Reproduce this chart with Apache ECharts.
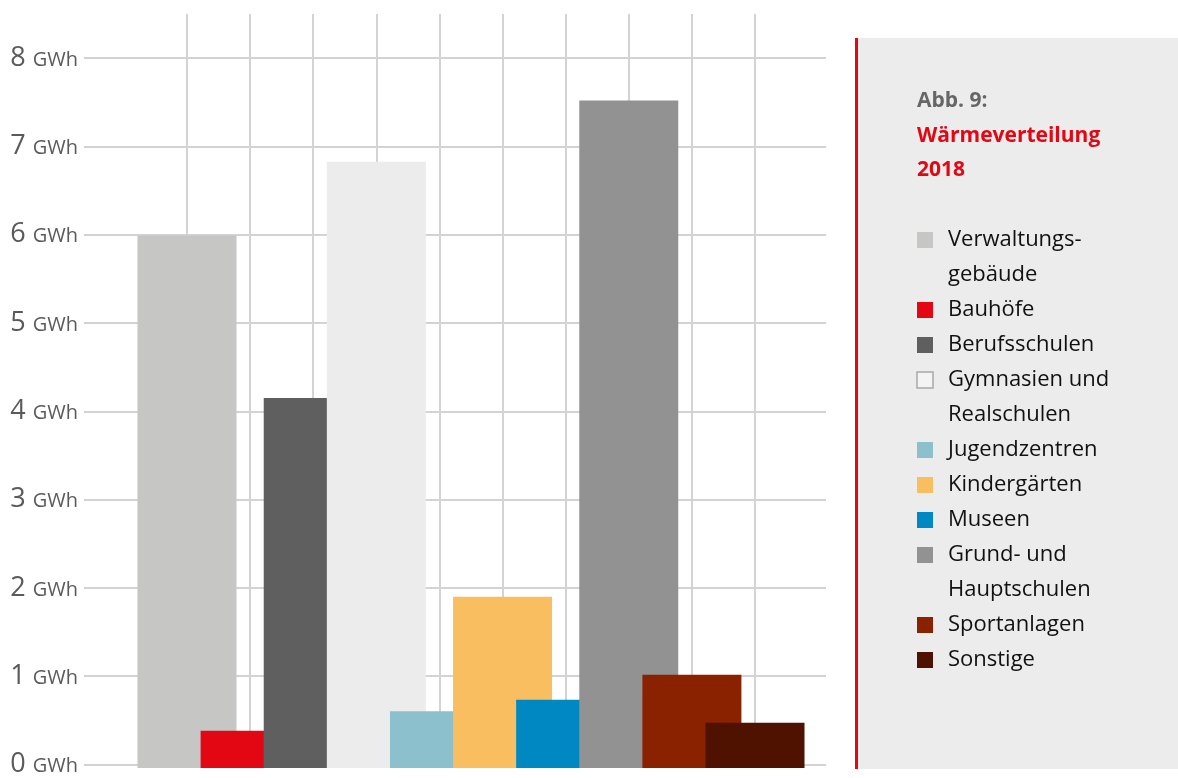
<!DOCTYPE html>
<html>
<head>
<meta charset="utf-8">
<script src="https://cdn.jsdelivr.net/npm/echarts@6/dist/echarts.min.js"></script>
<style>
html,body{margin:0;padding:0;background:#fff;}
#chart{width:1178px;height:778px;}
</style>
</head>
<body>
<div id="chart"></div>
<script>
// ---- data ----
const categories = ['Verwaltungsgebäude','Bauhöfe','Berufsschulen','Gymnasien und Realschulen','Jugendzentren','Kindergärten','Museen','Grund- und Hauptschulen','Sportanlagen','Sonstige'];
const legendLabels = ['Verwaltungs-\ngebäude','Bauhöfe','Berufsschulen','Gymnasien und\nRealschulen','Jugendzentren','Kindergärten','Museen','Grund- und\nHauptschulen','Sportanlagen','Sonstige'];
const values = [6.0, 0.42, 4.17, 6.83, 0.64, 1.93, 0.77, 7.52, 1.05, 0.51];
const colors = ['#c6c6c5','#e30613','#5f5f5f','#ececec','#8cc0cc','#f8be60','#0088c2','#929292','#8a2200','#501200'];
const yTicks = [0,1,2,3,4,5,6,7,8];
const unit = 'GWh';
const titleLines = ['Abb. 9:', 'Wärmeverteilung', '2018'];

// ---- layout ----
const FONT = '"Open Sans", "Noto Sans", sans-serif';
const plotBottom = 768, plotTop8 = 58, pxPerUnit = (plotBottom - plotTop8) / 8;
const vTop = 14;
const yMax2 = (plotBottom - vTop) / pxPerUnit;

const chart = echarts.init(document.getElementById('chart'), null, {renderer: 'canvas'});

// legend built as graphic elements
const graphics = [
  {type: 'rect', left: 858, top: 38, shape: {width: 320, height: 731}, style: {fill: '#ececec'}, z: 0},
  {type: 'rect', left: 855, top: 38, shape: {width: 3, height: 731}, style: {fill: '#e30613'}, z: 1}
];
const titleCenters = [101, 136, 170];
titleLines.forEach(function (t, i) {
  graphics.push({type: 'text', x: 917, y: titleCenters[i],
    style: {text: t, font: 'bold 21px ' + FONT, fill: i === 0 ? '#666666' : '#e30613', verticalAlign: 'middle'}, z: 2});
});
let ly = 240; // center of first line
const lineH = 35;
legendLabels.forEach(function (lab, i) {
  const isLight = colors[i] === '#ececec';
  graphics.push({
    type: 'rect', x: 917, y: ly - 8,
    shape: {width: 16, height: 16},
    style: {fill: isLight ? '#f4f4f4' : colors[i], stroke: isLight ? '#a8a8a8' : null, lineWidth: isLight ? 1.5 : 0},
    z: 2
  });
  const nLines = lab.split('\n').length;
  graphics.push({
    type: 'text', x: 948, y: ly - lineH / 2,
    style: {text: lab, font: '22px ' + FONT, fill: '#111111', lineHeight: lineH, verticalAlign: 'top'},
    z: 2
  });
  ly += lineH * nLines;
});

const option = {
  backgroundColor: '#ffffff',
  animation: false,
  grid: [
    {left: 84, right: 1178 - 826, top: plotTop8, bottom: 778 - plotBottom, containLabel: false},
    {left: 187, width: 568, top: vTop, bottom: 778 - plotBottom, containLabel: false}
  ],
  xAxis: [
    {gridIndex: 0, type: 'value', min: 0, max: 1, show: false},
    {gridIndex: 1, type: 'category', data: categories, boundaryGap: false,
     axisLine: {show: false}, axisTick: {show: false, interval: 0},
     axisLabel: {show: false, interval: 0},
     splitLine: {show: true, interval: 0, lineStyle: {color: '#d3d3d3', width: 2}}}
  ],
  yAxis: [
    {gridIndex: 0, type: 'value', min: yTicks[0], max: yTicks[yTicks.length - 1], interval: 1,
     axisLine: {show: false}, axisTick: {show: false},
     splitLine: {show: true, lineStyle: {color: '#d3d3d3', width: 2}},
     axisLabel: {
       margin: 6,
       formatter: function (v) { return '{n|' + v + ' }{u|' + unit + '}'; },
       rich: {
         n: {fontFamily: FONT, fontSize: 27, color: '#5a5a5a'},
         u: {fontFamily: FONT, fontSize: 20, color: '#5a5a5a', padding: [4, 0, 0, 0]}
       }
     }},
    {gridIndex: 1, type: 'value', min: 0, max: yMax2, show: false}
  ],
  graphic: graphics,
  series: [{
    type: 'bar',
    xAxisIndex: 1, yAxisIndex: 1,
    barWidth: 99,
    clip: false,
    data: values.map(function (v, i) { return {value: v, itemStyle: {color: colors[i]}}; }),
    z: 3
  }]
};
chart.setOption(option);
</script>
</body>
</html>
